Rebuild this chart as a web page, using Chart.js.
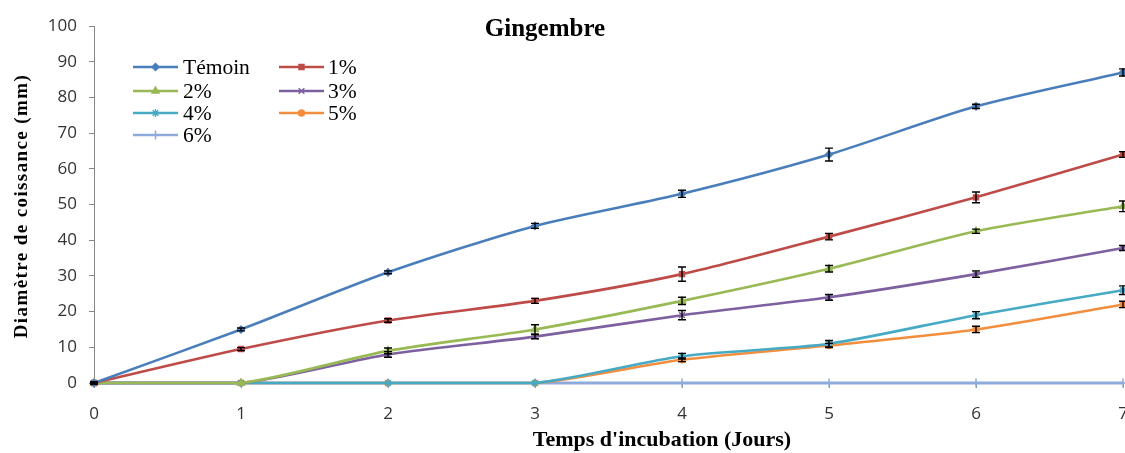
<!DOCTYPE html>
<html><head><meta charset="utf-8">
<script src="https://cdn.jsdelivr.net/npm/chart.js@4.4.1/dist/chart.umd.min.js"></script>
<style>html,body{margin:0;padding:0;background:#fff;overflow:hidden;}#wrap{width:1125px;height:453px;position:relative;overflow:hidden;}canvas{display:block;}</style>
</head><body><div id="wrap"><canvas id="c" width="1129" height="453"></canvas></div>
<script>
const days = [0, 1, 2, 3, 4, 5, 6, 7];
const seriesNames = ['Témoin', '1%', '2%', '3%', '4%', '5%', '6%'];
const temoin = [0, 15, 31, 44, 53, 64, 77.5, 87];
const c1 = [0, 9.5, 17.5, 23, 30.5, 41, 52, 64];
const c2 = [0, 0, 9, 15, 23, 32, 42.5, 49.5];
const c3 = [0, 0, 8, 13, 19, 24, 30.5, 37.8];
const c4 = [0, 0, 0, 0, 7.5, 11, 19, 26];
const c5 = [0, 0, 0, 0, 6.5, 10.5, 15, 22];
const c6 = [0, 0, 0, 0, 0, 0, 0, 0];
const errTemoin = [0.3, 0.4, 0.4, 0.7, 1.0, 1.8, 0.6, 1.0];
const err1 = [0.3, 0.4, 0.5, 0.7, 2.0, 0.9, 1.5, 0.8];
const err2 = [0, 0, 0.8, 1.3, 1.0, 0.9, 0.6, 1.5];
const err3 = [0, 0, 0.8, 0.6, 1.3, 0.8, 0.9, 0.7];
const err4 = [0, 0, 0, 0, 0.8, 0.9, 1.0, 1.2];
const err5 = [0, 0, 0, 0, 0.5, 0.6, 0.9, 0.9];
const err6 = [0, 0, 0, 0, 0, 0, 0, 0];
const yTicks = [0, 10, 20, 30, 40, 50, 60, 70, 80, 90, 100];
const xTicks = [0, 1, 2, 3, 4, 5, 6, 7];
const titleText = 'Gingembre';
const xTitle = "Temps d'incubation (Jours)";
const yTitle = 'Diamètre de coissance (mm)';

const values = [temoin, c1, c2, c3, c4, c5, c6];
const errors = [errTemoin, err1, err2, err3, err4, err5, err6];
const colors = ['#4A7EBB', '#BE4B48', '#98B954', '#7D60A0', '#46AAC5', '#F38E3E', '#8EAADB'];
const markers = ['rectRot', 'rect', 'triangle', 'crossRot', 'star', 'circle', 'cross'];
const radii = [3.5, 3.5, 4, 4, 4, 3, 4.5];

const datasets = values.map((v, i) => ({
  label: seriesNames[i],
  data: v.map((y, k) => ({x: days[k], y: y})),
  errs: errors[i],
  borderColor: colors[i],
  backgroundColor: colors[i],
  pointBorderColor: colors[i],
  pointBackgroundColor: colors[i],
  pointStyle: markers[i],
  pointRadius: radii[i],
  pointBorderWidth: 1.5,
  borderWidth: i === 6 ? 3 : 2.6,
  tension: 0.25,
  clip: false,
  order: i === 6 ? 10 : i
}));

const decor = {
  id: 'decor',
  afterDatasetsDraw(chart) {
    const ctx = chart.ctx, xs = chart.scales.x, ys = chart.scales.y;
    ctx.save();
    ctx.strokeStyle = '#000';
    ctx.lineWidth = 1.4;
    chart.data.datasets.forEach(ds => {
      ds.data.forEach((p, k) => {
        const e = ds.errs[k];
        if (!e) return;
        const px = xs.getPixelForValue(p.x);
        const y1 = ys.getPixelForValue(p.y + e), y2 = ys.getPixelForValue(p.y - e);
        ctx.beginPath();
        ctx.moveTo(px, y1); ctx.lineTo(px, y2);
        ctx.moveTo(px - 4, y1); ctx.lineTo(px + 4, y1);
        ctx.moveTo(px - 4, y2); ctx.lineTo(px + 4, y2);
        ctx.stroke();
      });
    });
    ctx.restore();
  },
  afterDraw(chart) {
    const ctx = chart.ctx;
    ctx.save();
    ctx.fillStyle = '#000';
    ctx.textAlign = 'center';
    ctx.textBaseline = 'middle';
    ctx.font = 'bold 25px "Liberation Serif", serif';
    ctx.fillText(titleText, 545, 30);
    ctx.font = 'bold 22px "Liberation Serif", serif';
    ctx.fillText(xTitle, 662, 440);
    ctx.save();
    ctx.translate(22, 206);
    ctx.rotate(-Math.PI / 2);
    ctx.font = 'bold 19px "Liberation Serif", serif';
    ctx.letterSpacing = '1.4px';
    ctx.fillText(yTitle, 0, 0);
    ctx.restore();
    // legend
    const rows = [67, 91, 113, 135];
    const cols = [[133, 178, 183], [279, 324, 328]];
    ctx.font = '21.5px "Liberation Serif", serif';
    ctx.textAlign = 'left';
    chart.data.datasets.forEach((ds, i) => {
      const r = Math.floor(i / 2), c = i % 2;
      const y = rows[r], [x0, x1, tx] = cols[c];
      ctx.strokeStyle = ds.borderColor;
      ctx.lineWidth = 2.6;
      ctx.beginPath(); ctx.moveTo(x0, y); ctx.lineTo(x1, y); ctx.stroke();
      ctx.fillStyle = ds.borderColor;
      ctx.strokeStyle = ds.borderColor;
      ctx.lineWidth = 1.5;
      Chart.helpers.drawPoint(ctx, {pointStyle: ds.pointStyle, radius: ds.pointRadius, borderWidth: 1.5, rotation: 0}, (x0 + x1) / 2, y);
      ctx.fillStyle = '#000';
      ctx.fillText(ds.label, tx, y + 1);
    });
    ctx.restore();
  }
};

new Chart(document.getElementById('c'), {
  type: 'line',
  data: {datasets},
  options: {
    responsive: false,
    animation: false,
    layout: {padding: {left: 0, right: 0, top: 26, bottom: 0}},
    plugins: {legend: {display: false}, tooltip: {enabled: false}, title: {display: false}},
    scales: {
      x: {
        type: 'linear', min: 0, max: 7,
        afterBuildTicks: s => { s.ticks = xTicks.map(v => ({value: v})); },
        afterFit: s => { s.height = 70; s.paddingLeft = 0; s.paddingRight = 0; },
        grid: {display: true, drawOnChartArea: false, drawTicks: true, tickLength: 5, color: '#868686', lineWidth: 1},
        border: {display: true, color: '#868686', width: 1},
        ticks: {color: '#333', font: {family: '"Open Sans", sans-serif', size: 17}, padding: 16, maxRotation: 0}
      },
      y: {
        min: 0, max: 100,
        afterBuildTicks: s => { s.ticks = yTicks.map(v => ({value: v})); },
        afterFit: s => { s.width = 94; },
        grid: {display: true, drawOnChartArea: false, drawTicks: true, tickLength: 5, color: '#868686', lineWidth: 1},
        border: {display: true, color: '#868686', width: 1},
        ticks: {color: '#333', font: {family: '"Open Sans", sans-serif', size: 17}, padding: 12}
      }
    }
  },
  plugins: [decor]
});
</script>
</body></html>
